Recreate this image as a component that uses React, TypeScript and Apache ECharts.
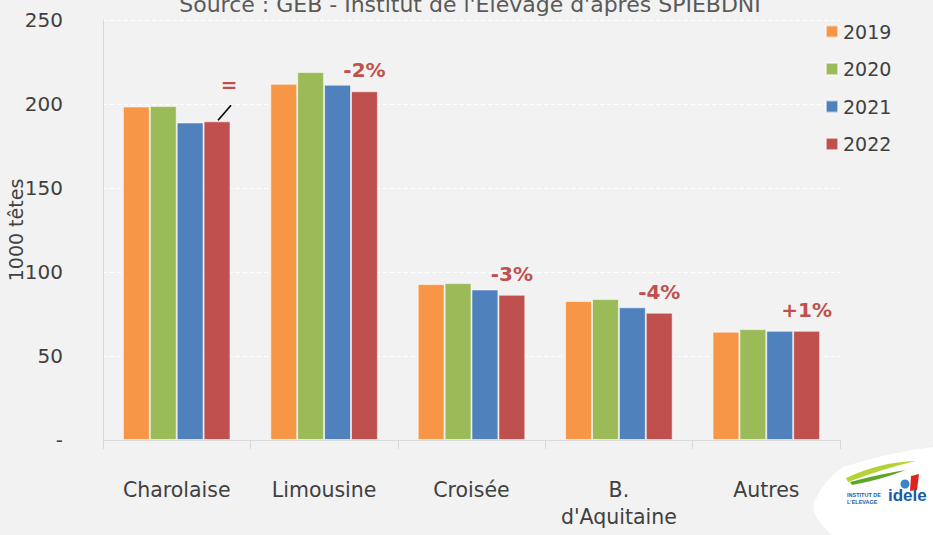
import React, { useEffect, useRef } from "react";
import * as echarts from "echarts";

const categories = ["Charolaise", "Limousine", "Croisée", "B.\nd'Aquitaine", "Autres"];
const years = ["2019", "2020", "2021", "2022"];
const v2019 = [198.5, 212, 92.8, 82.7, 64.5];
const v2020 = [198.8, 219, 93.4, 83.9, 66];
const v2021 = [189, 211.5, 89.6, 79, 65];
const v2022 = [189.7, 207.6, 86.5, 75.8, 65];
const changeLabels = ["=", "-2%", "-3%", "-4%", "+1%"];
const colors = ["#F79646", "#9BBB59", "#4F81BD", "#C0504D"];

const blobPath =
  "M 843 467 Q 890 452 933 447 L 933 535 L 832 535 Q 808 514 815 500 Q 824 480 843 467 Z";
const swooshTop = "M 846 478 Q 880 462 916 461 Q 885 468 848 482 Z";
const swooshBottom = "M 850 482 Q 880 474 906 470 Q 880 480 852 485 Z";

const CAT_GAP = 0.27;

export default function App() {
  const ref = useRef<HTMLDivElement>(null);
  useEffect(() => {
    if (!ref.current) return;
    echarts.graphic.registerShape("blob", echarts.graphic.extendPath(blobPath, {}));
    echarts.graphic.registerShape("swooshA", echarts.graphic.extendPath(swooshTop, {}));
    echarts.graphic.registerShape("swooshB", echarts.graphic.extendPath(swooshBottom, {}));
    const chart = echarts.init(ref.current, null, { renderer: "svg" });
    const font = "DejaVu Sans";
    const series = years.map((y, i) => {
      const values = [v2019, v2020, v2021, v2022][i];
      const s: any = {
        name: y,
        type: "bar",
        data: values,
        barGap: "0%",
        barCategoryGap: CAT_GAP * 100 + "%",
        itemStyle: { color: colors[i], borderColor: "rgba(255,255,255,0.55)", borderWidth: 1 },
      };
      if (i === 3) {
        s.label = {
          show: true,
          position: "top",
          distance: 11,
          formatter: (p: any) => changeLabels[p.dataIndex],
          color: "#C0504D",
          fontWeight: "bold",
          fontSize: 20,
          fontFamily: font,
        };
        s.labelLayout = (p: any) => (p.dataIndex === 0 ? { dx: 12, dy: -15 } : {});
      }
      return s;
    });
    chart.setOption({
      animation: false,
      backgroundColor: "#F2F2F2",
      textStyle: { fontFamily: font },
      title: {
        text: "Source : GEB - Institut de l'Elevage d'après SPIEBDNI",
        left: 465,
        textAlign: "center",
        top: -12,
        textStyle: { fontSize: 22, fontWeight: "normal", color: "#595959", fontFamily: font },
      },
      legend: {
        orient: "vertical",
        left: 820,
        top: 17,
        itemWidth: 12,
        itemHeight: 12,
        itemGap: 18.5,
        icon: "rect",
        textStyle: { fontSize: 19, color: "#404040", fontFamily: font },
        data: years,
      },
      grid: { left: 103, right: 93, top: 20, bottom: 95, containLabel: false, outerBoundsMode: "none" },
      xAxis: {
        type: "category",
        data: categories,
        axisLine: { lineStyle: { color: "#D9D9D9", width: 1 } },
        axisTick: { show: true, length: 9, lineStyle: { color: "#D9D9D9" }, interval: 0 },
        axisLabel: {
          fontSize: 20.5,
          color: "#404040",
          margin: 36,
          lineHeight: 27,
          fontFamily: font,
          interval: 0,
        },
      },
      yAxis: {
        type: "value",
        min: 0,
        max: 250,
        interval: 50,
        name: "1000 têtes",
        nameLocation: "middle",
        nameGap: 78,
        nameMoveOverlap: false,
        nameTextStyle: { fontSize: 19, color: "#404040", fontFamily: font },
        axisLine: { show: true, lineStyle: { color: "#D9D9D9" } },
        axisTick: { show: false },
        splitLine: { lineStyle: { color: "#FFFFFF", type: [4, 3], width: 1.2 } },
        axisLabel: {
          fontSize: 20,
          color: "#404040",
          margin: 40,
          fontFamily: font,
          formatter: (v: number) => (v === 0 ? "-" : String(v)),
        },
      },
      series,
      graphic: [
        { type: "blob", x: 0, y: 0, style: { fill: "#FFFFFF" }, z: 10 },
        { type: "swooshA", x: 0, y: 0, style: { fill: "#B5D334" }, z: 11 },
        { type: "swooshB", x: 0, y: 0, style: { fill: "#5BA829" }, z: 11 },
        { type: "circle", shape: { cx: 905, cy: 484, r: 4.5 }, style: { fill: "#3A86C8" }, z: 11 },
        {
          type: "polygon",
          shape: { points: [[911, 476], [919, 474], [917, 490], [910, 491]] },
          style: { fill: "#E2231A" },
          z: 11,
        },
        {
          type: "text",
          x: 847,
          y: 491,
          style: { text: "INSTITUT DE\nL'ELEVAGE", fill: "#1B5AA6", fontSize: 5.5, fontWeight: "bold", lineHeight: 7, fontFamily: "Liberation Sans" },
          z: 11,
        },
        {
          type: "text",
          x: 888,
          y: 487,
          style: { text: "idele", fill: "#1B5AA6", fontSize: 17, fontWeight: "bold", fontFamily: "Liberation Sans" },
          z: 11,
        },
      ],
    });
    // leader line for the "=" label, positioned through the axes' scales
    const c0 = chart.convertToPixel({ xAxisIndex: 0, yAxisIndex: 0 }, [0, v2022[0]]) as number[];
    const c1 = chart.convertToPixel({ xAxisIndex: 0, yAxisIndex: 0 }, [1, v2022[0]]) as number[];
    const band = c1[0] - c0[0];
    const barW = (band * (1 - CAT_GAP)) / 4;
    const barCx = c0[0] + barW * 1.5;
    const barTop = c0[1];
    chart.setOption({
      graphic: [
        {
          id: "leader",
          type: "line",
          shape: { x1: barCx + 1, y1: barTop - 1, x2: barCx + 14, y2: barTop - 16 },
          style: { stroke: "#000", lineWidth: 1.6 },
          z: 12,
        },
      ],
    });
    return () => chart.dispose();
  }, []);
  return <div ref={ref} style={{ width: 933, height: 535, position: "absolute", left: 0, top: 0 }} />;
}
